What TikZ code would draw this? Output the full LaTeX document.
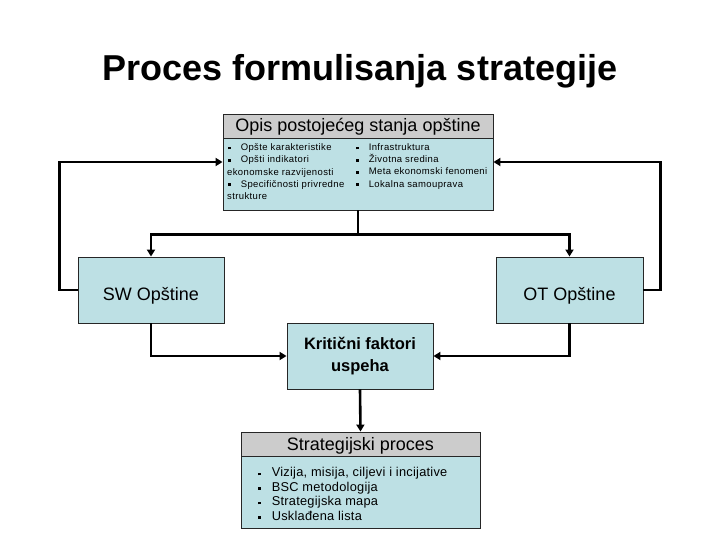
\documentclass[tikz,border=0pt]{standalone}
\usepackage{fontspec}
\setmainfont{Liberation Sans}
\usetikzlibrary{arrows.meta}
\definecolor{boxblue}{RGB}{189,224,228}
\definecolor{hdrgrey}{RGB}{204,204,204}
\newcommand{\sqb}{\rule[0.25ex]{2.6pt}{2.6pt}}
\tikzset{
  box/.style={draw=black!85, line width=0.9pt, fill=boxblue, inner sep=0pt, align=center},
  hdr/.style={draw=black!85, line width=0.9pt, fill=hdrgrey, inner sep=0pt, align=center, font=\fontsize{18}{20}\selectfont},
  conn/.style={line width=2.6pt, -{Triangle[length=7pt,width=8pt]}},
  plain/.style={line width=2.6pt},
  small/.style={inner sep=0pt, align=left, anchor=north west, font=\fontsize{9.5}{12.2}\selectfont\addfontfeature{LetterSpace=4}},
  list/.style={inner sep=0pt, align=left, anchor=north west, font=\fontsize{12.8}{14.5}\selectfont\addfontfeature{LetterSpace=2}},
  midtext/.style={label={[font=\fontsize{18}{20}\selectfont, yshift=-5.5pt]center:#1}}
}
\begin{document}
\begin{tikzpicture}[x=1pt,y=-1pt]
\useasboundingbox (0,0) rectangle (720,540);
\fill[white] (0,0) rectangle (720,540);

\node[anchor=base, font=\fontsize{36}{40}\bfseries] (title) at (360,81) {Proces formulisanja strategije};

% top box
\node[hdr, minimum width=270pt, minimum height=24pt, text height=14pt, text depth=2pt] (hdr1) at (358,126) {Opis postojećeg stanja opštine};
\node[box, minimum width=270pt, minimum height=72pt] (tb) at (358,174) {};
\node[small] (tbl) at (227,143.5) {\hspace{1pt}\sqb\hspace{10pt}Opšte karakteristike\\
\hspace{1pt}\sqb\hspace{10pt}Opšti indikatori\\
ekonomske razvijenosti\\
\hspace{1pt}\sqb\hspace{10pt}Specifičnosti privredne\\
strukture};
\node[small] (tbr) at (356,143.5) {\sqb\hspace{10pt}Infrastruktura\\
\sqb\hspace{10pt}Životna sredina\\
\sqb\hspace{10pt}Meta ekonomski fenomeni\\
\sqb\hspace{10pt}Lokalna samouprava};

% SW and OT
\node[box, minimum width=146pt, minimum height=66pt, midtext={SW Opštine}] (sw) at (151,290) {};
\node[box, minimum width=147pt, minimum height=66pt, midtext={OT Opštine}] (ot) at (569.5,290) {};

% KFU
\node[box, minimum width=146pt, minimum height=66pt, font=\fontsize{16.5}{22.5}\bfseries] (kf) at (360,356) {Kritični faktori\\uspeha};

% Strategijski proces
\node[hdr, minimum width=239pt, minimum height=24pt, text height=14pt, text depth=2pt] (hdr2) at (360.5,444) {Strategijski proces};
\node[box, minimum width=239pt, minimum height=72pt] (sp) at (360.5,492) {};
\node[list] (spl) at (258,467.5) {\sqb\hspace{11pt}Vizija, misija, ciljevi i incijative\\
\sqb\hspace{11pt}BSC metodologija\\
\sqb\hspace{11pt}Strategijska mapa\\
\sqb\hspace{11pt}Usklađena lista};

% connectors
\draw[conn] (sw.west) -- ++(-18,0) |- ([yshift=12pt]tb.west);
\draw[conn] (ot.east) -- ++(17,0) |- ([yshift=12pt]tb.east);
\draw[plain] (tb.south) -- ++(0,24) coordinate (split);
\draw[conn] (split) -| (sw.north);
\draw[conn] (split) -| (ot.north);
\draw[conn] (sw.south) |- (kf.west);
\draw[conn] (ot.south) |- (kf.east);
\draw[conn] (kf.south) -- (hdr2.north);
\end{tikzpicture}
\end{document}
